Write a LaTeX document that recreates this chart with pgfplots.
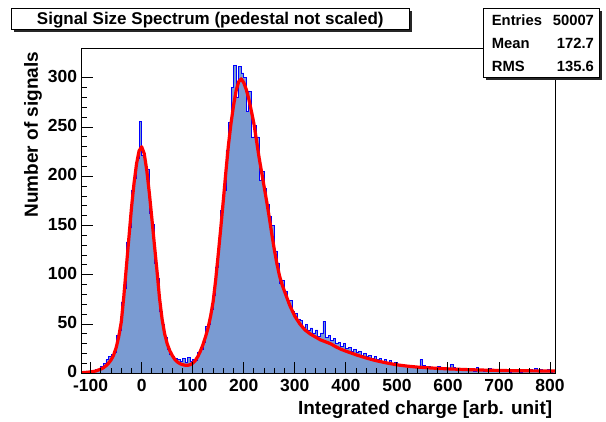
\documentclass[border=0pt]{standalone}
\usepackage{pgfplots}
\pgfplotsset{compat=1.18}
\usepackage{fontspec}
\setmainfont{Liberation Sans}
\definecolor{histfill}{RGB}{122,155,210}
\begin{document}
\begin{tikzpicture}[x=1pt,y=1pt]
\useasboundingbox (0,0) rectangle (606,421);
\begin{axis}[at={(81.7pt,47.7pt)}, anchor=south west, scale only axis,
  width=474pt, height=325pt,
  xmin=-117.5, xmax=811, ymin=0, ymax=330,
  xtick={-100,0,...,800}, minor x tick num=4,
  ytick={0,50,...,300}, minor y tick num=4,
  tick align=inside, xtick pos=left, ytick pos=left,
  major tick length=11pt, minor tick length=5.5pt,
  axis line style={line width=1.5pt},
  every tick/.style={black, line width=1pt},
  /pgf/number format/assume math mode=true,
  ticklabel style={font=\fontsize{17.5}{18}\selectfont\bfseries, inner sep=0pt},
  xticklabel style={anchor=north, yshift=-5.5pt},
  yticklabel style={anchor=east, xshift=-4.4pt, yshift=1.5pt},
  axis on top,
]
\addplot[const plot mark left, draw=blue, line width=0.8pt, fill=histfill] coordinates {
(-120,1) (-115,0) (-110,1) (-105,2) (-100,1) (-95,3) (-90,4) (-85,3) (-80,7) (-75,10)
(-70,14) (-65,17) (-60,19) (-55,21) (-50,38) (-45,44) (-40,72) (-35,86) (-30,133) (-25,148)
(-20,186) (-15,198) (-10,218) (-5,256) (0,221) (5,215) (10,207) (15,162) (20,151) (25,112)
(30,96) (35,63) (40,50) (45,36) (50,24) (55,19) (60,17) (65,15) (70,14) (75,12)
(80,15) (85,11) (90,16) (95,12) (100,14) (105,13) (110,21) (115,24) (120,31) (125,48)
(130,50) (135,65) (140,79) (145,108) (150,134) (155,165) (160,186) (165,226) (170,255) (175,290)
(180,313) (185,280) (190,312) (195,305) (200,300) (205,266) (210,286) (215,240) (220,252) (225,240)
(230,196) (235,205) (240,188) (245,172) (250,159) (255,150) (260,124) (265,112) (270,91) (275,94)
(280,83) (285,72) (290,74) (295,63) (300,61) (305,55) (310,54) (315,47) (320,50) (325,44)
(330,46) (335,41) (340,44) (345,37) (350,41) (355,53) (360,36) (365,38) (370,33) (375,35)
(380,30) (385,31) (390,27) (395,30) (400,25) (405,26) (410,22) (415,24) (420,21) (425,22)
(430,18) (435,20) (440,17) (445,18) (450,15) (455,17) (460,14) (465,15) (470,12) (475,14)
(480,11) (485,13) (490,10) (495,11) (500,9) (505,8) (510,9) (515,8) (520,7) (525,8)
(530,7) (535,6) (540,7) (545,14) (550,8) (555,6) (560,7) (565,5) (570,6) (575,5)
(580,7) (585,5) (590,6) (595,4) (600,5) (605,9) (610,6) (615,4) (620,5) (625,4)
(630,3) (635,5) (640,3) (645,4) (650,2) (655,6) (660,4) (665,3) (670,2) (675,4)
(680,5) (685,3) (690,2) (695,3) (700,2) (705,3) (710,4) (715,2) (720,1) (725,3)
(730,2) (735,3) (740,1) (745,2) (750,3) (755,2) (760,4) (765,3) (770,5) (775,2)
(780,4) (785,2) (790,3) (795,4) (800,1) (805,2) (810,2) (815,2)
} \closedcycle;
\addplot[red, line width=3.2pt, line join=round] coordinates {
(-117,0.6) (-110,0.9) (-100,1.4) (-90,2.3) (-80,4.3) (-75,5.6) (-70,7.6) (-65,10.2) (-60,13.5)
(-55,18.5) (-50,26) (-45,37) (-40,52) (-35,78) (-30,108) (-25,138) (-20,168) (-15,193) (-10,213)
(-5,226) (0,230) (5,223) (10,206) (15,183) (20,157) (25,130) (30,104) (35,76) (40,55)
(45,40) (50,30) (55,23) (60,18) (65,14) (70,11.5) (75,9.8) (80,8.8) (85,8.2) (90,8.1)
(95,8.7) (100,10.3) (105,13) (110,17) (115,22.5) (120,29) (125,37) (130,46) (135,58) (140,73)
(145,95) (150,121) (155,148) (160,176) (165,205) (170,232) (175,254) (180,272) (185,287) (190,296)
(195,299) (200,295) (205,288) (210,278) (215,266) (220,253) (225,236) (230,219) (235,204) (240,189)
(245,174) (250,158) (255,141) (260,125) (265,111) (270,99) (275,90) (280,83) (285,76) (290,69)
(295,63.5) (300,58) (310,50) (320,44) (330,40) (340,37) (350,34) (360,32) (370,30) (380,27)
(390,24.5) (400,22.5) (420,18.8) (440,15.5) (460,12.7) (480,10.5) (500,8.6) (520,7.3) (540,6.3)
(560,5.6) (580,5.0) (600,4.5) (640,3.7) (680,3.1) (720,2.7) (760,2.5) (811,2.3)
};
\end{axis}
% y label
\node[rotate=90, anchor=base east, font=\fontsize{19}{20}\selectfont\bfseries] at (38,372.7) {Number of signals};
% x label
\node[anchor=base east, font=\fontsize{19}{20}\selectfont\bfseries] at (555.7,6) {Integrated charge [arb. unit]};
% title box
\fill[black!85] (14.1,389.2) rectangle (411.5,410.2);
\draw[fill=white, line width=0.8pt] (11.6,391.7) rectangle (409,412.7);
\node[anchor=base, font=\fontsize{17}{18}\selectfont\bfseries] at (210.3,396) {Signal Size Spectrum (pedestal not scaled)};
% stats box
\fill[black!85] (485.8,341.2) rectangle (601.8,410.2);
\draw[fill=white, line width=0.8pt] (483.3,343.7) rectangle (599.3,412.7);
\begin{scope}[font=\fontsize{14.8}{16}\selectfont\bfseries]
\node[anchor=base west] at (488.3,395) {Entries};
\node[anchor=base east] at (597.5,395) {50007};
\node[anchor=base west] at (488.3,372) {Mean};
\node[anchor=base east] at (597.5,372) {172.7};
\node[anchor=base west] at (488.3,349.3) {RMS};
\node[anchor=base east] at (597.5,349.3) {135.6};
\end{scope}
\end{tikzpicture}
\end{document}
